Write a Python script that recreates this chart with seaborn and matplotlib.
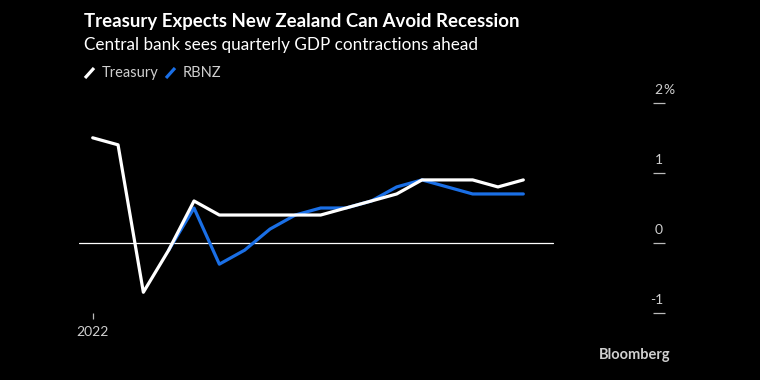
import matplotlib
matplotlib.use("Agg")
import matplotlib.pyplot as plt
from matplotlib.lines import Line2D
import seaborn as sns
import pandas as pd
import numpy as np

quarters = list(range(18))
treasury = [1.5, 1.4, -0.7, -0.1, 0.6, 0.4, 0.4, 0.4, 0.4, 0.4, 0.5, 0.6, 0.7, 0.9, 0.9, 0.9, 0.8, 0.9]
rbnz = [np.nan, np.nan, np.nan, -0.1, 0.5, -0.3, -0.1, 0.2, 0.4, 0.5, 0.5, 0.6, 0.8, 0.9, 0.8, 0.7, 0.7, 0.7]
ytick_vals = [2, 1, 0, -1]
ytick_labels = ["2", "1", "0", "-1"]
xtick_label = "2022"

title = "Treasury Expects New Zealand Can Avoid Recession"
subtitle = "Central bank sees quarterly GDP contractions ahead"

sns.set_theme(style="dark")
plt.rcParams["font.family"] = ["Lato", "DejaVu Sans"]

BG = "#000000"
WHITE = "#ffffff"
BLUE = "#1a6fe6"
GRAY = "#cfcfcf"

W, H = 760, 380
fig = plt.figure(figsize=(7.6, 3.8), dpi=100, facecolor=BG)

def fx(px):
    return px / W

def fy(py):
    return 1 - py / H

ax_left, ax_right = 79, 665
ax_top, ax_bot = 102.7, 313.3
ax = fig.add_axes([fx(ax_left), fy(ax_bot), fx(ax_right - ax_left), (ax_bot - ax_top) / H])
ax.set_facecolor(BG)

df = pd.DataFrame({"q": quarters, "Treasury": treasury, "RBNZ": rbnz})
long = df.melt(id_vars="q", var_name="series", value_name="value").dropna()

step = 25.33
x0px = 92.7
xmin = -(x0px - ax_left) / step
xmax = (ax_right - x0px) / step
ax.set_xlim(xmin, xmax)
ax.set_ylim(-1, 2)
ax.axhline(0, xmin=0, xmax=(553 - ax_left) / (ax_right - ax_left), color=WHITE, lw=0.9, zorder=1)

sns.lineplot(data=long, x="q", y="value", hue="series", hue_order=["RBNZ", "Treasury"],
             palette={"Treasury": WHITE, "RBNZ": BLUE}, linewidth=2.3, ax=ax,
             legend=False, zorder=3)

for s in ax.spines.values():
    s.set_visible(False)
ax.grid(False)
ax.set_xlabel("")
ax.set_ylabel("")

ax.yaxis.tick_right()
ax.set_yticks(ytick_vals)
ax.set_yticklabels([])
ax.tick_params(axis="y", direction="in", length=9, width=0.9, color="#bbbbbb", right=True, left=False)
for v, lab in zip(ytick_vals, ytick_labels):
    ax.annotate(lab, xy=(1, v), xycoords=("axes fraction", "data"), xytext=(-1.5, 5),
                textcoords="offset points", ha="right", va="bottom", color=GRAY, fontsize=10)
ax.annotate("%", xy=(1, 2), xycoords=("axes fraction", "data"), xytext=(-1.5, 5),
            textcoords="offset points", ha="left", va="bottom", color=GRAY, fontsize=10)

ax.set_xticks([0])
ax.set_xticklabels([xtick_label], color=GRAY, fontsize=10)
ax.tick_params(axis="x", direction="out", length=4, width=0.9, color="#bbbbbb", bottom=True, pad=5)

fig.text(fx(84), fy(22), title, color=WHITE, fontsize=13.4, fontweight="bold", va="center", ha="left")
fig.text(fx(84), fy(45), subtitle, color=WHITE, fontsize=12.3, va="center", ha="left")

def swatch(xp, color):
    fig.add_artist(Line2D([fx(xp), fx(xp + 9)], [fy(78), fy(68)], color=color, lw=2.3,
                          transform=fig.transFigure, solid_capstyle="butt"))

swatch(85, WHITE)
fig.text(fx(102), fy(73), "Treasury", color=GRAY, fontsize=10.5, va="center", ha="left")
swatch(166, BLUE)
fig.text(fx(183), fy(73), "RBNZ", color=GRAY, fontsize=10.5, va="center", ha="left")

fig.text(fx(670), fy(355), "Bloomberg", color=GRAY, fontsize=10.5, fontweight="bold", va="center", ha="right")

fig.savefig("out.png", dpi=100, facecolor=BG)
